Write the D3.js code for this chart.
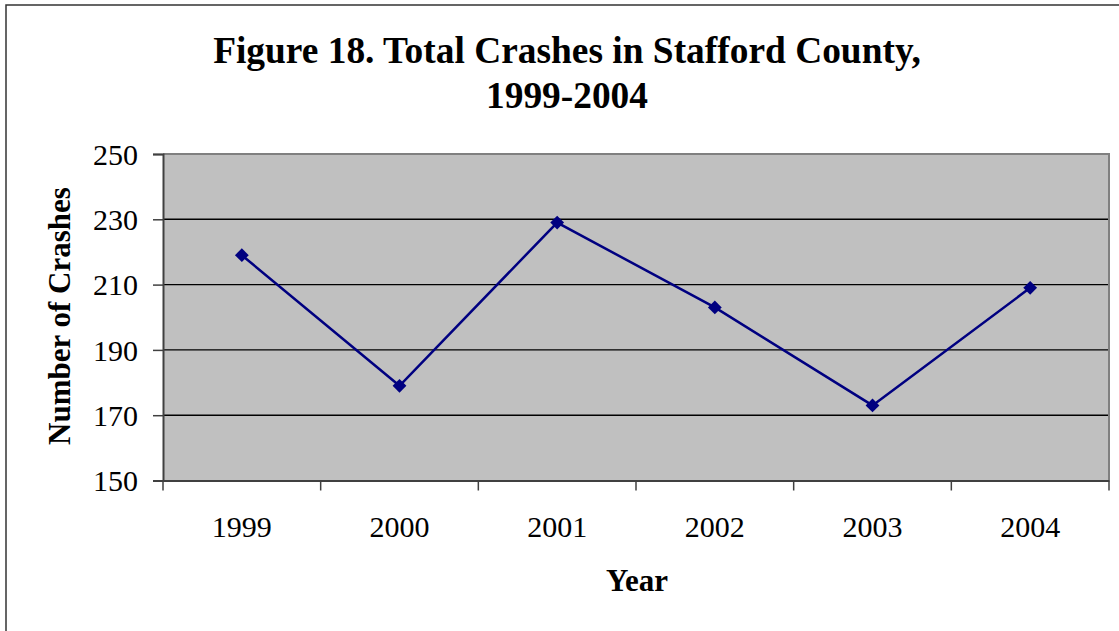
<!DOCTYPE html>
<html>
<head>
<meta charset="utf-8">
<script src="https://cdn.jsdelivr.net/npm/d3@7"></script>
<style>
  body { margin: 0; background: #fff; }
  text { font-family: "Liberation Serif", "Times New Roman", serif; fill: #000; }
</style>
</head>
<body>
<svg id="chart" width="1119" height="631"></svg>
<script>
var years = ["1999", "2000", "2001", "2002", "2003", "2004"];
var crashes = [219, 179, 229, 203, 173, 209];
var yTicks = [150, 170, 190, 210, 230, 250];

var svg = d3.select("#chart");
var plot = { left: 163, top: 154, right: 1109, bottom: 480.5 };

// outer frame (right edge runs off the picture)
svg.append("rect")
  .attr("x", 6).attr("y", 5).attr("width", 1125).attr("height", 640)
  .attr("fill", "none").attr("stroke", "#333").attr("stroke-width", 1.5);

// title
var title = svg.append("text")
  .attr("text-anchor", "middle")
  .style("font-size", "37.4px").style("font-weight", "bold");
title.append("tspan").attr("x", 567).attr("y", 62.5).text("Figure 18. Total Crashes in Stafford County,");
title.append("tspan").attr("x", 567).attr("y", 108).text("1999-2004");

var x = d3.scaleBand().domain(years).range([plot.left, plot.right]);
var y = d3.scaleLinear().domain([150, 250]).range([plot.bottom, plot.top]);

// plot background
svg.append("rect")
  .attr("x", plot.left).attr("y", plot.top)
  .attr("width", plot.right - plot.left).attr("height", plot.bottom - plot.top)
  .attr("fill", "#c0c0c0");

// gridlines
svg.append("g").selectAll("line")
  .data(yTicks.slice(1, -1))
  .enter().append("line")
  .attr("x1", plot.left).attr("x2", plot.right)
  .attr("y1", function(d){ return y(d); }).attr("y2", function(d){ return y(d); })
  .attr("stroke", "#000").attr("stroke-width", 1.4);

// top / right border
svg.append("path")
  .attr("d", "M" + plot.left + "," + plot.top + "H" + plot.right + "V" + plot.bottom)
  .attr("fill", "none").attr("stroke", "#808080").attr("stroke-width", 2);

// y axis
var yAxis = svg.append("g")
  .attr("transform", "translate(" + plot.left + ",0)")
  .call(d3.axisLeft(y).tickValues(yTicks).tickSize(10).tickPadding(15));
yAxis.select(".domain").attr("stroke", "#404040").attr("stroke-width", 2);
yAxis.selectAll(".tick line").attr("stroke", "#404040").attr("stroke-width", 1.5);
yAxis.selectAll(".tick text")
  .style("font-size", "30px").style("font-family", "Liberation Serif, serif")
  .attr("fill", "#000").attr("dy", "0.34em");

// x axis
var xAxis = svg.append("g")
  .attr("transform", "translate(0," + plot.bottom + ")")
  .call(d3.axisBottom(x).tickSize(0));
xAxis.select(".domain").attr("stroke", "#404040").attr("stroke-width", 2);
xAxis.selectAll(".tick text")
  .style("font-size", "30px").style("font-family", "Liberation Serif, serif")
  .attr("fill", "#000").attr("y", 56).attr("dy", null);

// category separators
var edges = years.map(function(d){ return x(d); }).concat([plot.right]);
xAxis.selectAll(".sep")
  .data(edges)
  .enter().append("line")
  .attr("class", "sep")
  .attr("x1", function(d){ return d; }).attr("x2", function(d){ return d; })
  .attr("y1", 0).attr("y2", 10)
  .attr("stroke", "#404040").attr("stroke-width", 1.5);

// axis titles
svg.append("text")
  .attr("transform", "translate(70,316) rotate(-90)")
  .attr("text-anchor", "middle")
  .style("font-size", "31px").style("font-weight", "bold")
  .text("Number of Crashes");

svg.append("text")
  .attr("x", 637).attr("y", 591)
  .attr("text-anchor", "middle")
  .style("font-size", "31px").style("font-weight", "bold")
  .text("Year");

// line
var line = d3.line()
  .x(function(d, i){ return x(years[i]) + x.bandwidth() / 2; })
  .y(function(d){ return y(d); });

svg.append("path")
  .datum(crashes)
  .attr("d", line)
  .attr("fill", "none")
  .attr("stroke", "#000080")
  .attr("stroke-width", 2.5);

// diamond markers
svg.append("g").selectAll("path")
  .data(crashes)
  .enter().append("path")
  .attr("transform", function(d, i){
    return "translate(" + (x(years[i]) + x.bandwidth() / 2) + "," + y(d) + ") rotate(45)";
  })
  .attr("d", d3.symbol().type(d3.symbolSquare).size(95))
  .attr("fill", "#000080");
</script>
</body>
</html>
